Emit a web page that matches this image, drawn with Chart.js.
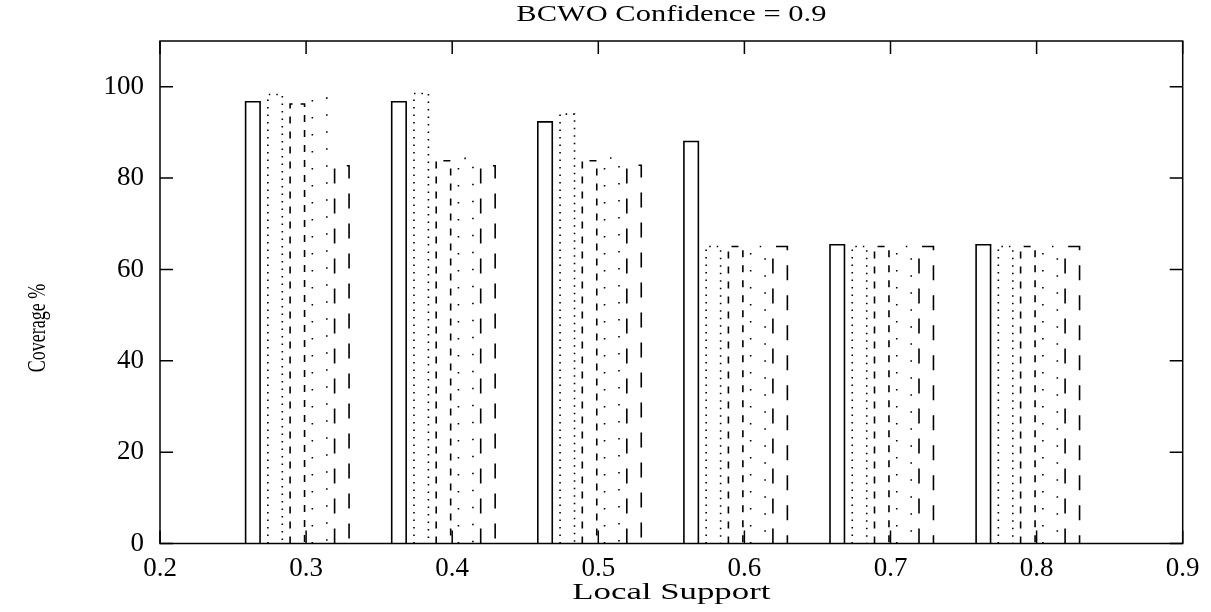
<!doctype html>
<html lang="en">
<head>
    <meta charset="utf-8">
    <title>BCWO Confidence = 0.9</title>
    <script src="https://cdn.jsdelivr.net/npm/chart.js@4.4.1/dist/chart.umd.min.js"></script>
    <style>
        body { margin: 0; background: #fff; }
    </style>
</head>
<body>
    <canvas id="myChart" width="1211" height="612"></canvas>
    <script type="text/javascript">
        // x축 : Local Support
        const support = [0.3, 0.4, 0.5, 0.6, 0.7, 0.8];
        // 각 막대 묶음의 값 (Coverage %)
        const series1 = [96.7, 96.7, 92.3, 88.0, 65.4, 65.4];
        const series2 = [98.3, 98.5, 94.0, 65.0, 65.0, 65.0];
        const series3 = [96.2, 83.8, 83.8, 65.0, 65.0, 65.0];
        const series4 = [97.5, 84.3, 84.4, 65.0, 65.0, 65.0];
        const series5 = [82.7, 82.7, 82.8, 65.0, 65.0, 65.0];
        const xTicks = [0.2, 0.3, 0.4, 0.5, 0.6, 0.7, 0.8, 0.9];
        const yTicks = [0, 20, 40, 60, 80, 100];
        const chartTitle = 'BCWO Confidence = 0.9';
        const xTitle = 'Local Support';
        const yTitle = 'Coverage %';

        const font = '"Liberation Serif", "Times New Roman", serif';
        // 막대 테두리 선 모양 : 실선, 점선, 파선, 성긴 점선, 긴 파선
        const dashes = [[], [1.5, 6], [7, 8], [1.5, 15.5], [15, 15]];

        const toPoints = (vals) => support.map((x, i) => ({ x: x, y: vals[i] }));

        // 가로로 늘린 글자를 쓴다. (원본 그림의 제목 글자가 옆으로 넓다)
        const wideText = (ctx, text, x, y, size, sx, rotate) => {
            ctx.save();
            ctx.translate(x, y);
            ctx.scale(sx, 1);
            if (rotate) ctx.rotate(-Math.PI / 2);
            ctx.fillStyle = '#000';
            ctx.font = size + 'px ' + font;
            ctx.textAlign = 'center';
            ctx.textBaseline = 'middle';
            ctx.fillText(text, 0, 0);
            ctx.restore();
        };

        // 막대 윤곽선과 테두리/눈금을 그린다.
        const outlinePlugin = {
            id: 'outline',
            afterDatasetsDraw(chart) {
                const ctx = chart.ctx;
                ctx.save();
                ctx.strokeStyle = '#000';
                ctx.lineWidth = 1.6;
                chart.data.datasets.forEach((ds, i) => {
                    const meta = chart.getDatasetMeta(i);
                    ctx.setLineDash(dashes[i]);
                    meta.data.forEach((bar) => {
                        const p = bar.getProps(['x', 'y', 'base', 'width'], true);
                        const l = p.x - p.width / 2;
                        const r = p.x + p.width / 2;
                        ctx.beginPath();
                        ctx.moveTo(l, p.base);
                        ctx.lineTo(l, p.y);
                        ctx.lineTo(r, p.y);
                        ctx.lineTo(r, p.base);
                        ctx.stroke();
                    });
                });
                ctx.restore();
            },
            afterDraw(chart) {
                const ctx = chart.ctx;
                const a = chart.chartArea;
                const x = chart.scales.x;
                const y = chart.scales.y;
                const tl = 13;
                ctx.save();
                ctx.strokeStyle = '#000';
                ctx.lineWidth = 1.5;
                ctx.setLineDash([]);
                ctx.strokeRect(a.left, a.top, a.right - a.left, a.bottom - a.top);
                ctx.beginPath();
                xTicks.forEach((v) => {
                    const px = x.getPixelForValue(v);
                    ctx.moveTo(px, a.bottom); ctx.lineTo(px, a.bottom - tl);
                    ctx.moveTo(px, a.top); ctx.lineTo(px, a.top + tl);
                });
                yTicks.forEach((v) => {
                    const py = y.getPixelForValue(v);
                    ctx.moveTo(a.left, py); ctx.lineTo(a.left + tl, py);
                    ctx.moveTo(a.right, py); ctx.lineTo(a.right - tl, py);
                });
                ctx.stroke();
                ctx.restore();

                const cx = (a.left + a.right) / 2;
                wideText(ctx, chartTitle, cx, 15, 24, 1.27, false);
                wideText(ctx, xTitle, cx, 593, 24, 1.45, false);
                // y축 제목 : 그래프 영역보다 조금 아래쪽에 놓인다.
                wideText(ctx, yTitle, 38, 328, 18, 1.4, true);
            }
        };

        const makeDataset = (label, vals) => ({
            label: label,
            data: toPoints(vals),
            xAxisID: 'xb',
            backgroundColor: 'rgba(0,0,0,0)',
            borderWidth: 0,
            categoryPercentage: 0.81,
            barPercentage: 0.65
        });

        new Chart(document.getElementById('myChart'), {
            type: 'bar',
            data: {
                datasets: [
                    makeDataset('1', series1),
                    makeDataset('2', series2),
                    makeDataset('3', series3),
                    makeDataset('4', series4),
                    makeDataset('5', series5)
                ]
            },
            options: {
                responsive: false,
                animation: false,
                layout: { padding: { top: 41, right: 28.3 } },
                plugins: {
                    legend: { display: false },
                    tooltip: { enabled: false },
                    title: { display: false }
                },
                scales: {
                    x: {
                        type: 'linear',
                        offset: false,
                        min: 0.2,
                        max: 0.9,
                        afterBuildTicks: (s) => { s.ticks = xTicks.map((v) => ({ value: v })); },
                        afterFit: (s) => { s.height = 68.5; },
                        grid: { display: false, drawTicks: false, offset: false },
                        border: { display: false },
                        ticks: {
                            color: '#000',
                            padding: 9,
                            font: { family: font, size: 27 },
                            callback: (v) => v.toFixed(1)
                        }
                    },
                    // 막대 위치용 숨김 축 (막대 묶음이 눈금보다 조금 왼쪽에 놓인다)
                    xb: {
                        type: 'linear',
                        display: false,
                        offset: false,
                        grid: { offset: false },
                        min: 0.206,
                        max: 0.906
                    },
                    y: {
                        min: 0,
                        max: 110,
                        afterBuildTicks: (s) => { s.ticks = yTicks.map((v) => ({ value: v })); },
                        afterFit: (s) => { s.width = 160; },
                        grid: { display: false, drawTicks: false },
                        border: { display: false },
                        ticks: {
                            color: '#000',
                            padding: 16,
                            font: { family: font, size: 27 }
                        }
                    }
                }
            },
            plugins: [outlinePlugin]
        });
    </script>
</body>
</html>
